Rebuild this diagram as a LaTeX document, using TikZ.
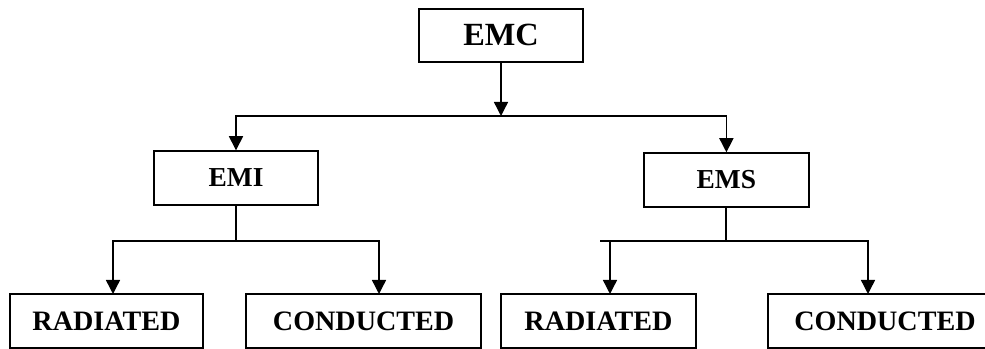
\documentclass[tikz,border=0pt]{standalone}
\usepackage{fontspec}
\setmainfont{Liberation Serif}
\usetikzlibrary{arrows.meta}
\tikzset{
  box/.style={draw, line width=1pt, rectangle, inner sep=0pt, font=\bfseries\fontsize{20}{24}\selectfont},
  arr/.style={line width=1pt, -{Triangle[width=10pt,length=10pt]}}
}
\begin{document}
\begin{tikzpicture}
\useasboundingbox (0,0) rectangle (24.625,8.725);
\clip (0,0) rectangle (24.625,8.725);
\node[box, minimum width=4.1cm, minimum height=1.325cm, font=\bfseries\fontsize{23}{27}\selectfont] (emc) at (12.525,7.84) {EMC};
\node[box, minimum width=4.1cm, minimum height=1.35cm, font=\bfseries\fontsize{19.5}{23}\selectfont] (emi) at (5.9,4.275) {EMI};
\node[box, minimum width=4.125cm, minimum height=1.35cm, font=\bfseries\fontsize{19.5}{23}\selectfont] (ems) at (18.16,4.225) {EMS};
\node[box, minimum width=4.825cm, minimum height=1.35cm] (rad1) at (2.66,0.7) {RADIATED};
\node[box, minimum width=5.875cm, minimum height=1.35cm] (con1) at (9.09,0.7) {CONDUCTED};
\node[box, minimum width=4.875cm, minimum height=1.35cm] (rad2) at (14.96,0.7) {RADIATED};
\node[box, minimum width=5.85cm, minimum height=1.35cm] (con2) at (22.125,0.7) {CONDUCTED};

% splitting points
\coordinate (top) at (12.525,5.825);
\coordinate (emisplit) at (5.9,2.7);
\coordinate (emssplit) at (18.15,2.7);
\coordinate (r1in) at (2.825,1.375);
\coordinate (c1in) at (9.475,1.375);
\coordinate (r2in) at (15.25,1.375);
\coordinate (c2in) at (21.7,1.375);

\draw[arr] (emc.south) -- (top);
\draw[arr] (top) -| (emi.north);
\draw[arr] (top) -| (ems.north);

\draw[line width=1pt] (emi.south) -- (emisplit);
\draw[arr] (emisplit) -| (r1in);
\draw[arr] (emisplit) -| (c1in);

\draw[line width=1pt] (ems.south -| emssplit) -- (emssplit);
\draw[line width=1pt] (emssplit) -- (15.0,2.7);
\draw[arr] (emssplit) -| (r2in);
\draw[arr] (emssplit) -| (c2in);
\end{tikzpicture}
\end{document}
